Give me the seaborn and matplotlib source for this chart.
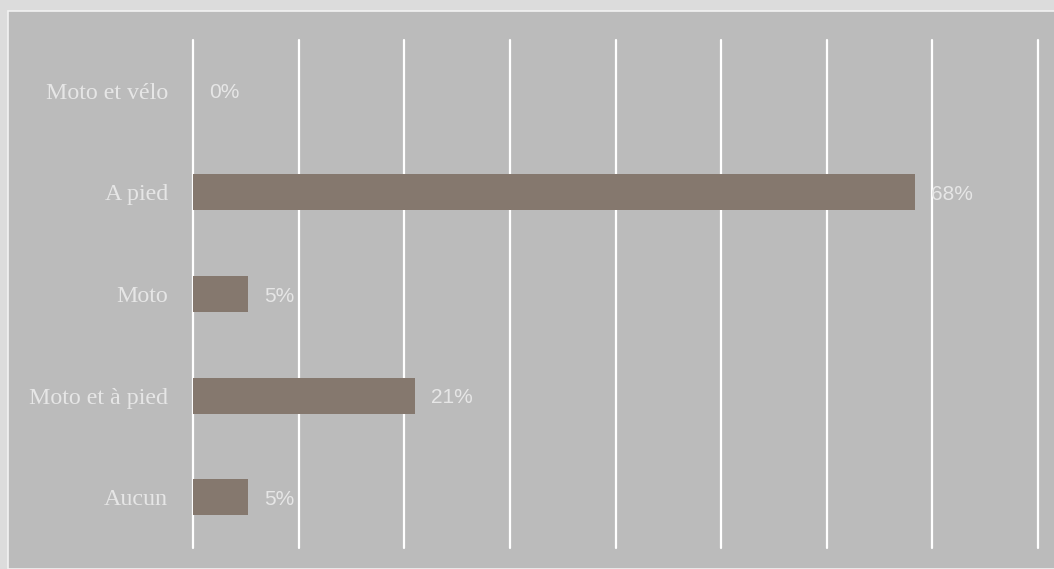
import matplotlib
matplotlib.use("Agg")
import matplotlib.pyplot as plt
import seaborn as sns
import pandas as pd
from matplotlib.patches import Rectangle

categories = ["Moto et vélo", "A pied", "Moto", "Moto et à pied", "Aucun"]
values = [0.0, 68.4, 5.2, 21.0, 5.2]
labels = ["0%", "68%", "5%", "21%", "5%"]
xticks = [0, 10, 20, 30, 40, 50, 60, 70, 80]

df = pd.DataFrame({"cat": categories, "val": values})

sns.set_theme(style="white")
fig = plt.figure(figsize=(10.54, 5.69), dpi=100, facecolor="#dcdcdc")
panel = Rectangle((8 / 1054, 0), 1.0, 1 - 11 / 569, transform=fig.transFigure,
                  facecolor="#bbbbbb", edgecolor="#f2f2f2", linewidth=1.2, zorder=-10)
fig.add_artist(panel)
ax = fig.add_axes([193 / 1054, 1 - 548 / 569, (1038 - 193) / 1054, 508 / 569])
ax.set_facecolor("none")
ax.patch.set_alpha(0)

sns.barplot(data=df, x="val", y="cat", orient="h", color="#85786e", width=0.355,
            saturation=1, linewidth=0, ax=ax, zorder=2)

ax.set_xlim(0, 80)
ax.set_ylim(4.5, -0.5)
ax.set_xticks(xticks)
ax.xaxis.grid(True, color="white", linewidth=1.6)
for gl in ax.get_xgridlines():
    gl.set_clip_on(False)
ax.set_axisbelow(True)
ax.tick_params(axis="x", length=0, labelbottom=False)
ax.tick_params(axis="y", length=0, pad=18)
for s in ax.spines.values():
    s.set_visible(False)
ax.set_xlabel("")
ax.set_ylabel("")
for t in ax.get_yticklabels():
    t.set_fontfamily("Liberation Serif")
    t.set_fontsize(17.3)
    t.set_color("#e6e6e6")

for i, (v, lab) in enumerate(zip(values, labels)):
    ax.annotate(lab, xy=(v, i), xytext=(16, 0), textcoords="offset pixels",
                ha="left", va="center_baseline", fontsize=15, color="#e6e6e6",
                fontfamily="Liberation Sans", zorder=3)

fig.savefig("out.png", dpi=100, facecolor=fig.get_facecolor())
